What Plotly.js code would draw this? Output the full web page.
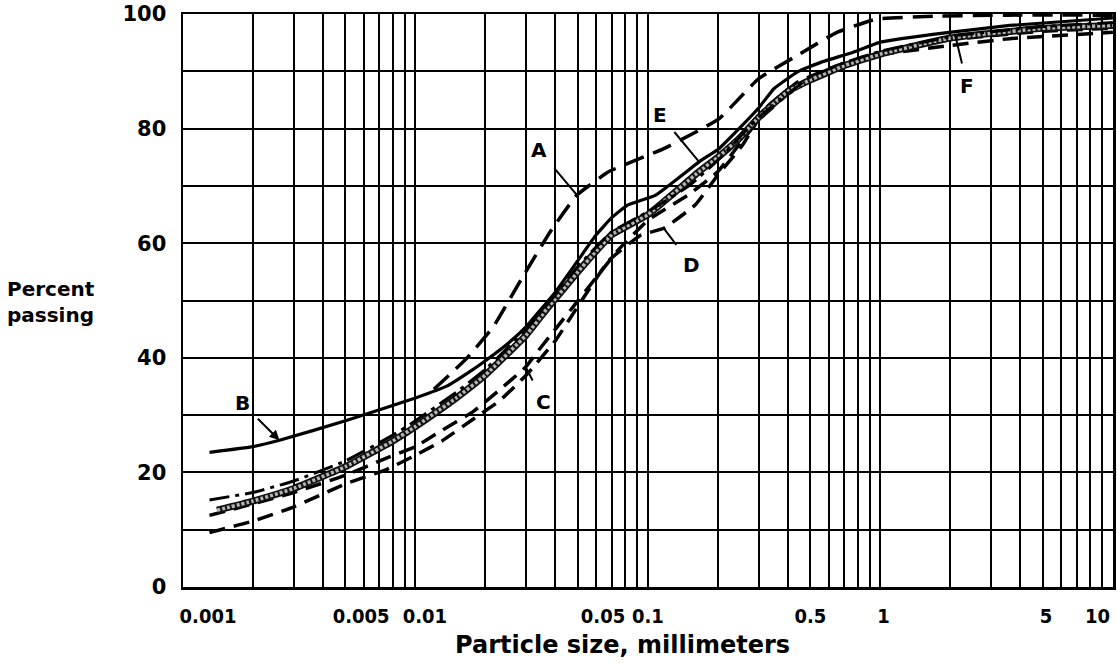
<!DOCTYPE html>
<html><head><meta charset="utf-8">
<script src="https://cdn.plot.ly/plotly-3.0.1.min.js"></script>
<style>html,body{margin:0;padding:0;background:#fff}#chart{width:1117px;height:665px}</style>
</head><body><div id="chart"></div>
<script>
// ---- data ----
const A_x = [0.012, 0.0166, 0.0216, 0.0287, 0.038, 0.0495, 0.068, 0.117, 0.202, 0.299, 0.44, 0.65, 0.96, 1.7, 3.5, 10];
const A_y = [34.5, 39.9, 45.4, 53.9, 62.0, 68.4, 72.5, 76.5, 81.7, 88.7, 92.8, 96.8, 99.1, 99.6, 99.8, 99.8];

const B_x = [0.0013, 0.002, 0.0026, 0.005, 0.01, 0.0137, 0.017, 0.02, 0.025, 0.03, 0.04, 0.05, 0.06, 0.07, 0.082, 0.108, 0.166, 0.202, 0.255, 0.298, 0.349, 0.44, 0.557, 0.76, 1, 1.98, 3.6, 10];
const B_y = [23.5, 24.5, 25.6, 29.0, 33.0, 35.1, 37.5, 39.5, 42.5, 45.5, 51.5, 57.0, 61.5, 64.5, 66.7, 68.4, 74.2, 76.5, 80.6, 83.5, 87.0, 89.9, 91.6, 93.3, 95.1, 96.8, 98.0, 99.3];

const C_x = [0.0013, 0.002, 0.003, 0.005, 0.0075, 0.01, 0.0127, 0.0177, 0.023, 0.0298, 0.034, 0.04, 0.0503, 0.0744, 0.1, 0.15, 0.2, 0.25, 0.3, 0.4, 0.5, 0.7, 1, 2, 5, 10];
const C_y = [12.5, 14.5, 16.5, 19.5, 22.5, 24.5, 27.1, 30.6, 34.4, 38.4, 41.4, 45.0, 50.1, 58.8, 64.0, 68.5, 72.5, 77.5, 81.5, 86.0, 88.5, 91.0, 93.0, 95.5, 97.0, 97.5];

const D_x = [0.0013, 0.002, 0.003, 0.005, 0.0075, 0.01, 0.013, 0.018, 0.023, 0.03, 0.04, 0.05, 0.068, 0.093, 0.117, 0.16, 0.2, 0.255, 0.32, 0.44, 0.65, 0.96, 2, 3.6, 10];
const D_y = [9.5, 11.5, 14.0, 18.0, 20.5, 23.0, 25.5, 29.5, 32.5, 37.0, 43.0, 49.0, 57.0, 61.4, 62.6, 66.7, 71.9, 77.1, 83.5, 88.1, 91.0, 92.8, 94.5, 95.7, 96.8];

const E_x = [0.0014, 0.002, 0.003, 0.005, 0.008, 0.01, 0.015, 0.02, 0.03, 0.037, 0.05, 0.058, 0.07, 0.1, 0.166, 0.2, 0.25, 0.3, 0.4, 0.5, 0.7, 1, 2, 5, 10];
const E_y = [13.4, 15.0, 17.2, 21.0, 25.5, 28.0, 33.0, 37.0, 44.0, 48.7, 55.0, 58.0, 61.5, 65.0, 72.5, 75.0, 78.5, 82.0, 86.5, 88.5, 91.0, 93.0, 95.8, 97.5, 98.0];

const F_x = [0.0013, 0.002, 0.003, 0.005, 0.008, 0.01, 0.015, 0.02, 0.03, 0.04, 0.05, 0.07, 0.1, 0.15, 0.2, 0.3, 0.5, 0.7, 1, 2.1, 5, 10];
const F_y = [15.2, 16.5, 18.5, 22.0, 26.5, 29.0, 34.0, 38.0, 45.0, 51.0, 56.0, 62.0, 65.5, 70.0, 74.5, 82.0, 89.0, 91.5, 93.5, 96.2, 97.8, 98.5];

const xTickVals = [0.001, 0.005, 0.01, 0.05, 0.1, 0.5, 1, 5, 10];
const xTickText = ['0.001', '0.005', '0.01', '0.05', '0.1', '0.5', '1', '5', '10'];
// horizontal offset of each printed label (in space characters)
const xTickPad = [8, 5, 3, 8, 0, 0, 1, 1, 0];
const yTickVals = [0, 20, 40, 60, 80, 100];
const yTickText = ['0', '20', '40', '60', '80', '100'];

// ---- grid positions (every digit of each decade) ----
const NB = '\u00a0';
const xGrid = [];
for (let e = -3; e <= 0; e++) for (let d = 1; d <= 9; d++) xGrid.push(+(d * Math.pow(10, e)).toPrecision(6));
xGrid.push(10);
const lastTick = xTickVals.length - 1; // the label at the right edge is drawn right-aligned below
const xGridText = xGrid.map(v => {
  const i = xTickVals.findIndex(t => Math.abs(t - v) / t < 1e-6);
  if (i < 0 || i === lastTick) return '';
  return NB.repeat(xTickPad[i]) + xTickText[i];
});
const yGrid = []; for (let v = 0; v <= 100; v += 10) yGrid.push(v);
const yGridText = yGrid.map(v => { const i = yTickVals.indexOf(v); return i >= 0 ? yTickText[i] : ''; });

const K = '#000';
const SM = 0.35;
const traces = [
  {x: D_x, y: D_y, line: {color: K, width: 3.5, dash: '16px,9px'}},
  {x: C_x, y: C_y, line: {color: K, width: 3.5, dash: '16px,9px'}},
  {x: E_x, y: E_y, line: {color: '#111', width: 7}},
  {x: E_x, y: E_y, line: {color: '#b4b4b4', width: 3.5, dash: '3px,2px'}},
  {x: F_x, y: F_y, line: {color: K, width: 3, dash: '20px,6px,4px,6px'}},
  {x: B_x, y: B_y, line: {color: K, width: 3.2}},
  {x: A_x, y: A_y, line: {color: K, width: 3.5, dash: '20px,10px'}}
].map(t => Object.assign({mode: 'lines', hoverinfo: 'skip', showlegend: false}, t,
        {line: Object.assign({shape: 'spline', smoothing: SM}, t.line)}));

const lab = (txt, xs, ys, i, ax, ay) => ({
  text: txt, x: Math.log10(xs[i]), y: ys[i], xref: 'x', yref: 'y', ax: ax, ay: ay,
  showarrow: true, arrowhead: 0, arrowwidth: 2, arrowcolor: K, standoff: 0, startstandoff: 9,
  font: {family: 'DejaVu Sans, sans-serif', size: 20, color: K, weight: 'bold'}
});

const annotations = [
  lab('A', A_x, A_y, 5, -38, -45),
  Object.assign(lab('B', B_x, B_y, 2, -37, -37), {arrowhead: 2, arrowsize: 1}),
  lab('C', C_x, C_y, 9, 18, 35),
  lab('D', D_x, D_y, 14, 28, 37),
  lab('E', B_x, B_y, 16, -39, -47),
  lab('F', F_x, F_y, 19, 12, 50),
  {text: xTickText[lastTick], xref: 'x', yref: 'paper', x: Math.log10(xTickVals[lastTick]), y: -0.05,
   xanchor: 'right', yanchor: 'middle', xshift: -1, showarrow: false,
   font: {family: 'DejaVu Sans Condensed, DejaVu Sans, sans-serif', size: 20, color: K, weight: 'bold'}},
  {text: 'Percent<br>passing', xref: 'paper', yref: 'paper', x: -0.191, y: 0.497, xanchor: 'left', yanchor: 'middle',
   align: 'left', showarrow: false, font: {family: 'DejaVu Sans, sans-serif', size: 20, color: K, weight: 'bold'}},
  {text: 'Particle size, millimeters', xref: 'paper', yref: 'paper', x: 0.473, y: -0.101, xanchor: 'center', yanchor: 'middle',
   showarrow: false, font: {family: 'DejaVu Sans, sans-serif', size: 24, color: K, weight: 'bold'}}
];

const layout = {
  width: 1117, height: 665,
  margin: {l: 183, r: 4, t: 14, b: 78},
  paper_bgcolor: '#fff', plot_bgcolor: '#fff',
  showlegend: false,
  xaxis: {
    type: 'log', range: [-3, 1.0005], tickmode: 'array', tickvals: xGrid, ticktext: xGridText,
    tickangle: 0,
    showgrid: true, gridcolor: K, gridwidth: 2, zeroline: false,
    showline: true, linecolor: K, linewidth: 2.5, mirror: true,
    ticks: 'outside', ticklen: 9, tickcolor: 'rgba(0,0,0,0)',
    tickfont: {family: 'DejaVu Sans Condensed, DejaVu Sans, sans-serif', size: 20, color: K, weight: 'bold'},
    automargin: false, fixedrange: true
  },
  yaxis: {
    range: [0, 100], tickmode: 'array', tickvals: yGrid, ticktext: yGridText,
    showgrid: true, gridcolor: K, gridwidth: 2, zeroline: false,
    showline: true, linecolor: K, linewidth: 2.5, mirror: true,
    ticks: 'outside', ticklen: 10, tickcolor: 'rgba(0,0,0,0)',
    tickfont: {family: 'DejaVu Sans, sans-serif', size: 21, color: K, weight: 'bold'},
    automargin: false, fixedrange: true
  },
  annotations: annotations
};

Plotly.newPlot('chart', traces, layout, {displayModeBar: false, staticPlot: true});
</script></body></html>
